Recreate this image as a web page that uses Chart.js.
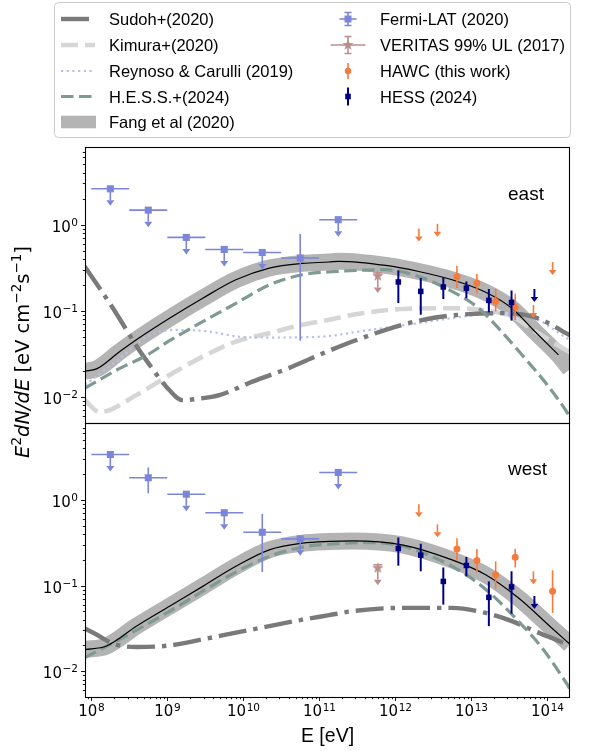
<!DOCTYPE html>
<html>
<head>
<meta charset="utf-8">
<script src="https://cdn.jsdelivr.net/npm/chart.js@4.4.1/dist/chart.umd.min.js"></script>
<style>
  html, body { margin: 0; padding: 0; background: #fff; }
  #wrap { position: relative; width: 597px; height: 751px; }
  #wrap canvas { position: absolute; left: 0; top: 0; }
</style>
</head>
<body>
<div id="wrap">
  <canvas id="east" width="597" height="751"></canvas>
  <canvas id="west" width="597" height="751"></canvas>
</div>
<script>
// axis ranges and tick labels
const X_MIN = 8.26e7, X_MAX = 2.0e14;
const Y_MIN = 5.0e-3, Y_MAX = 7.94;
const xTicks = [1e8, 1e9, 1e10, 1e11, 1e12, 1e13, 1e14];
const xTickExp = ['8', '9', '10', '11', '12', '13', '14'];
const yTicks = [1e-2, 1e-1, 1];
const yTickExp = ['\u22122', '\u22121', '0'];

// ---------- models, east ----------
const fangE_east = [8.2e7, 1.17e8, 2.37e8, 4.33e8, 1.07e9, 2.93e9, 8.0e9, 2.2e10, 6.0e10, 1.35e11, 1.82e11, 7.5e11, 2.04e12, 5.6e12, 1.53e13, 3.43e13, 6.9e13, 1.41e14, 2.0e14];
const fangF_east = [0.020, 0.0212, 0.0337, 0.049, 0.082, 0.14, 0.229, 0.313, 0.355, 0.368, 0.375, 0.336, 0.286, 0.229, 0.165, 0.107, 0.0575, 0.0308, 0.021];
const sudohE_east = [8.2e7, 1.93e8, 4.11e8, 5.86e8, 9.7e8, 1.6e9, 2.4e9, 4.85e9, 1.32e10, 3.63e10, 1.0e11, 2.73e11, 1.23e12, 3.39e12, 9.27e12, 2.51e13, 6.31e13, 1.15e14, 1.62e14, 2.0e14];
const sudohF_east = [0.327, 0.107, 0.0368, 0.0236, 0.0132, 0.0092, 0.0095, 0.0105, 0.0151, 0.021, 0.0308, 0.044, 0.0688, 0.0836, 0.0916, 0.094, 0.086, 0.0688, 0.0575, 0.052];
const kimuraE_east = [8.2e7, 1.29e8, 3.89e8, 1.07e9, 2.93e9, 8.0e9, 2.2e10, 6.0e10, 1.35e11, 2.73e11, 1.23e12, 5.6e12, 1.55e13, 3.43e13, 6.9e13, 1.05e14, 2.0e14];
const kimuraF_east = [0.0092, 0.0067, 0.0105, 0.018, 0.0294, 0.044, 0.055, 0.0688, 0.0786, 0.0898, 0.105, 0.107, 0.101, 0.086, 0.058, 0.046, 0.033];
const reynosoE_east = [8.3e7, 2.37e8, 5.37e8, 1.2e9, 3.3e9, 9.1e9, 2.2e10, 1.0e11, 4.57e11, 2.04e12, 9.3e12, 2.51e13, 6.9e13, 1.82e14, 2.0e14];
const reynosoF_east = [0.0138, 0.028, 0.05, 0.06, 0.058, 0.05, 0.049, 0.05, 0.06, 0.072, 0.0875, 0.094, 0.082, 0.048, 0.046];
const hessModE_east = [8.26e7, 2.37e8, 5.37e8, 1.07e9, 2.93e9, 8.0e9, 2.2e10, 6.0e10, 1.82e11, 7.5e11, 2.04e12, 5.6e12, 1.26e13, 2.51e13, 5.13e13, 9.33e13, 1.82e14, 2.0e14];
const hessModF_east = [0.0127, 0.0215, 0.0305, 0.045, 0.075, 0.122, 0.2, 0.262, 0.287, 0.30, 0.25, 0.168, 0.107, 0.0575, 0.028, 0.015, 0.0067, 0.0058];

// ---------- models, west ----------
const fangE_west = [8.2e7, 1.58e8, 3.92e8, 1.07e9, 2.93e9, 8.0e9, 2.2e10, 6.0e10, 1.35e11, 2.73e11, 1.23e12, 5.6e12, 1.55e13, 4.17e13, 1.15e14, 2.0e14];
const fangF_west = [0.0179, 0.0197, 0.0336, 0.0575, 0.098, 0.168, 0.262, 0.313, 0.328, 0.333, 0.30, 0.20, 0.134, 0.072, 0.032, 0.0206];
const sudohE_west = [8.2e7, 1.17e8, 1.93e8, 3.92e8, 1.07e9, 2.93e9, 8.0e9, 2.2e10, 6.0e10, 1.35e11, 2.73e11, 1.23e12, 5.6e12, 1.55e13, 3.43e13, 6.9e13, 1.82e14, 2.0e14];
const sudohF_west = [0.0316, 0.0269, 0.021, 0.0192, 0.020, 0.0236, 0.0282, 0.0336, 0.040, 0.0452, 0.0503, 0.055, 0.055, 0.048, 0.0385, 0.0294, 0.0206, 0.0198];
const hessModE_west = [8.2e7, 2.37e8, 1.07e9, 2.93e9, 8.0e9, 2.2e10, 6.0e10, 1.35e11, 4.57e11, 1.23e12, 3.39e12, 9.3e12, 1.86e13, 4.17e13, 8.5e13, 1.82e14, 2.0e14];
const hessModF_west = [0.0144, 0.0236, 0.05, 0.086, 0.144, 0.219, 0.282, 0.305, 0.318, 0.29, 0.21, 0.128, 0.0786, 0.0385, 0.0189, 0.0071, 0.0062];

// ---------- Fermi-LAT (2020) ----------
const fermiE = [1.78e8, 5.62e8, 1.78e9, 5.62e9, 1.78e10, 5.62e10, 1.78e11];
const fermiElo = [1e8, 3.16e8, 1e9, 3.16e9, 1e10, 3.16e10, 1e11];
const fermiEhi = [3.16e8, 1e9, 3.16e9, 1e10, 3.16e10, 1e11, 3.16e11];
const fermiF_east = [2.6, 1.47, 0.71, 0.515, 0.475, 0.41, 1.14];
const fermiLo_east = [null, null, null, null, null, 0.045, null];
const fermiHi_east = [null, null, null, null, null, 0.78, null];
const fermiUL_east = [true, true, true, true, true, false, true];
const fermiF_west = [3.4, 1.82, 1.17, 0.71, 0.42, 0.352, 2.1];
const fermiLo_west = [null, 1.2, null, null, 0.144, null, null];
const fermiHi_west = [null, 2.4, null, null, 0.687, null, null];
const fermiUL_west = [true, false, true, true, false, true, true];

// ---------- VERITAS 99% UL (2017) ----------
const veritasE = [5.9e11];
const veritasF_east = [0.253];
const veritasHi_east = [0.275];
const veritasF_west = [0.16];
const veritasHi_west = [0.175];

// ---------- HAWC (this work) ----------
const hawcE = [2.05e12, 3.6e12, 6.5e12, 1.19e13, 2.1e13, 3.8e13, 6.6e13, 1.18e14];
const hawcF_east = [0.90, 1.02, 0.249, 0.21, 0.128, 0.110, 0.117, 0.368];
const hawcLo_east = [null, null, 0.184, 0.158, 0.098, 0.078, null, null];
const hawcHi_east = [null, null, 0.333, 0.267, 0.18, 0.158, null, null];
const hawcUL_east = [true, true, false, false, false, false, true, true];
const hawcF_west = [0.89, 0.52, 0.267, 0.197, 0.134, 0.214, 0.147, 0.086];
const hawcLo_west = [null, null, 0.195, 0.143, 0.092, 0.163, null, 0.048];
const hawcHi_west = [null, null, 0.358, 0.267, 0.192, 0.27, null, 0.151];
const hawcUL_west = [true, true, false, false, false, false, true, false];

// ---------- HESS (2024) ----------
const hessE = [1.1e12, 2.17e12, 4.3e12, 8.65e12, 1.71e13, 3.4e13, 6.8e13];
const hessF_east = [0.216, 0.168, 0.189, 0.183, 0.132, 0.125, 0.179];
const hessLo_east = [0.123, 0.09, 0.137, 0.14, 0.096, 0.077, null];
const hessHi_east = [0.294, 0.24, 0.244, 0.219, 0.179, 0.172, null];
const hessUL_east = [false, false, false, false, false, false, true];
const hessF_west = [0.272, 0.227, 0.112, 0.172, 0.073, 0.0966, 0.0757];
const hessLo_west = [0.171, 0.147, 0.06, 0.128, 0.0336, 0.047, null];
const hessHi_west = [0.365, 0.308, 0.163, 0.216, 0.112, 0.147, null];
const hessUL_west = [false, false, false, false, false, false, true];

const legendLeft = ['Sudoh+(2020)', 'Kimura+(2020)', 'Reynoso & Carulli (2019)', 'H.E.S.S.+(2024)', 'Fang et al (2020)'];
const legendRight = ['Fermi-LAT (2020)', 'VERITAS 99% UL (2017)', 'HAWC (this work)', 'HESS (2024)'];

const COL = {
  fermi: '#7b86da', veritas: '#bc8f8f', hawc: '#f47b3d', hess: '#000080',
  sudoh: '#7a7a7a', kimura: '#d6d6d6', reynoso: '#b8c0e8', hessMod: '#7e9a93', fang: '#b4b4b4'
};
const SANS = '"Liberation Sans", Arial, sans-serif';
const MATH = '"DejaVu Sans", sans-serif';

const curve = (E, F) => E.map((e, i) => ({ x: e, y: F[i] }));
const points = (E, F, lo, hi, ul, elo, ehi) => E.map((e, i) => ({
  x: e, y: F[i],
  lo: lo ? lo[i] : null, hi: hi ? hi[i] : null,
  ul: ul ? ul[i] : false,
  xlo: elo ? elo[i] : null, xhi: ehi ? ehi[i] : null
}));

function starImage(color, r) {
  const cv = document.createElement('canvas');
  const s = Math.ceil(r * 2 + 2);
  cv.width = cv.height = s;
  const c = cv.getContext('2d');
  c.fillStyle = color;
  c.beginPath();
  for (let i = 0; i < 10; i++) {
    const a = -Math.PI / 2 + i * Math.PI / 5;
    const rr = i % 2 ? r * 0.42 : r;
    c.lineTo(s / 2 + rr * Math.cos(a), s / 2 + rr * Math.sin(a));
  }
  c.closePath();
  c.fill();
  return cv;
}
const star = starImage(COL.veritas, 6);

function lineDs(data, color, width, dash, order) {
  return {
    type: 'line', data, borderColor: color, borderWidth: width, borderDash: dash,
    borderCapStyle: 'butt', borderJoinStyle: 'round', pointRadius: 0, fill: false,
    cubicInterpolationMode: 'monotone', clip: 0, order
  };
}

const DASH = {
  sudoh: [28, 7, 4.4, 7], kimura: [17, 7], reynoso: [2.2, 3.5], hessMod: [12.5, 5.5]
};

function panel(p) {
  return [
    lineDs(curve(p.fangE, p.fangF), COL.fang, 17, [], 30),
    lineDs(curve(p.fangE, p.fangF).filter(d => d.x <= p.fitEnd), '#000', 1.2, [], 5),
    ...(p.kimuraE ? [lineDs(curve(p.kimuraE, p.kimuraF), COL.kimura, 4.6, DASH.kimura, 12)] : []),
    ...(p.reynosoE ? [lineDs(curve(p.reynosoE, p.reynosoF), COL.reynoso, 2.2, DASH.reynoso, 11)] : []),
    lineDs(curve(p.sudohE, p.sudohF), COL.sudoh, 4.4, DASH.sudoh, 10),
    lineDs(curve(p.hessModE, p.hessModF), COL.hessMod, 3.2, DASH.hessMod, 9),
    {
      type: 'scatter', data: points(fermiE, p.fermiF, p.fermiLo, p.fermiHi, p.fermiUL, fermiElo, fermiEhi),
      pointStyle: 'rect', pointRadius: 5, backgroundColor: COL.fermi, borderWidth: 0, clip: 0, order: 2,
      err: { color: COL.fermi, width: 1.6, arrow: 17, head: [4, 5.5] }
    },
    {
      type: 'scatter', data: points(veritasE, p.veritasF, null, p.veritasHi, [true], null, null),
      pointStyle: star, clip: 0, order: 2,
      err: { color: COL.veritas, width: 1.6, arrow: 17, head: [4, 5.5], cap: 4.5 }
    },
    {
      type: 'scatter', data: points(hawcE, p.hawcF, p.hawcLo, p.hawcHi, p.hawcUL, null, null),
      pointStyle: 'circle', pointRadius: ctx => (ctx.raw && ctx.raw.ul ? 0 : 3.5),
      backgroundColor: COL.hawc, borderWidth: 0, clip: 0, order: 1,
      err: { color: COL.hawc, width: 1.6, arrow: 13, head: [3.8, 5] }
    },
    {
      type: 'scatter', data: points(hessE, p.hessF, p.hessLo, p.hessHi, p.hessUL, null, null),
      pointStyle: 'rect', pointRadius: ctx => (ctx.raw && ctx.raw.ul ? 0 : 3.9),
      backgroundColor: COL.hess, borderWidth: 0, clip: 0, order: 0,
      err: { color: COL.hess, width: 2, arrow: 13, head: [3.8, 5] }
    }
  ];
}

// error bars / upper-limit arrows, drawn just below each marker set
const errorBars = {
  id: 'errorBars',
  beforeDatasetDraw(chart, args) {
    const ds = chart.data.datasets[args.index];
    if (!ds.err) return;
    const st = ds.err, c = chart.ctx, xs = chart.scales.x, ys = chart.scales.y, a = chart.chartArea;
    c.save();
    c.beginPath();
    c.rect(a.left, a.top, a.right - a.left, a.bottom - a.top);
    c.clip();
    c.strokeStyle = st.color; c.fillStyle = st.color; c.lineWidth = st.width;
    ds.data.forEach(p => {
      const px = xs.getPixelForValue(p.x), py = ys.getPixelForValue(p.y);
      if (p.xlo != null) {
        c.beginPath();
        c.moveTo(xs.getPixelForValue(p.xlo), py);
        c.lineTo(xs.getPixelForValue(p.xhi), py);
        c.stroke();
      }
      if (p.ul) {
        const top = p.hi != null ? ys.getPixelForValue(p.hi) : py;
        const tip = py + st.arrow, base = tip - st.head[1];
        c.beginPath(); c.moveTo(px, top); c.lineTo(px, base); c.stroke();
        c.beginPath();
        c.moveTo(px - st.head[0], base); c.lineTo(px + st.head[0], base); c.lineTo(px, tip);
        c.closePath(); c.fill();
        if (st.cap && p.hi != null) {
          c.beginPath(); c.moveTo(px - st.cap, top); c.lineTo(px + st.cap, top); c.stroke();
        }
      } else if (p.lo != null) {
        c.beginPath();
        c.moveTo(px, ys.getPixelForValue(p.hi));
        c.lineTo(px, ys.getPixelForValue(p.lo));
        c.stroke();
      }
    });
    c.restore();
  }
};

function drawPow(c, exp, x, y, align) {
  const base = '15px ' + MATH, sup = '10.5px ' + MATH;
  c.font = base; const wb = c.measureText('10').width;
  c.font = sup; const we = c.measureText(exp).width;
  const total = wb + 0.6 + we;
  const x0 = align === 'center' ? x - total / 2 : x - total;
  c.textAlign = 'left'; c.textBaseline = 'alphabetic';
  c.font = base; c.fillText('10', x0, y);
  c.font = sup; c.fillText(exp, x0 + wb + 0.6, y - 5.5);
}

function minorValues(min, max) {
  const out = [];
  for (let e = Math.floor(Math.log10(min)); e <= Math.ceil(Math.log10(max)); e++) {
    for (let m = 2; m <= 9; m++) {
      const v = m * Math.pow(10, e);
      if (v > min && v < max) out.push(v);
    }
  }
  return out;
}

function axesPlugin(withX, label, labelBaseline) {
  return {
    id: 'frame',
    afterDatasetsDraw(chart) {
      const c = chart.ctx, a = chart.chartArea, xs = chart.scales.x, ys = chart.scales.y;
      c.save();
      c.strokeStyle = '#000'; c.fillStyle = '#000';
      c.lineWidth = 1.1;
      c.strokeRect(a.left + 0.5, a.top + 0.5, a.right - a.left - 1, a.bottom - a.top);
      c.lineWidth = 0.9;
      // y ticks
      yTicks.forEach((v, i) => {
        const py = Math.round(ys.getPixelForValue(v)) + 0.5;
        c.beginPath(); c.moveTo(a.left, py); c.lineTo(a.left - 4, py); c.stroke();
        drawPow(c, yTickExp[i], a.left - 7, py + 6, 'right');
      });
      minorValues(Y_MIN, Y_MAX).forEach(v => {
        const py = Math.round(ys.getPixelForValue(v)) + 0.5;
        c.beginPath(); c.moveTo(a.left, py); c.lineTo(a.left - 2.2, py); c.stroke();
      });
      if (withX) {
        xTicks.forEach((v, i) => {
          const px = Math.round(xs.getPixelForValue(v)) + 0.5;
          c.beginPath(); c.moveTo(px, a.bottom); c.lineTo(px, a.bottom + 4); c.stroke();
          drawPow(c, xTickExp[i], px, a.bottom + 19, 'center');
        });
        minorValues(X_MIN, X_MAX).forEach(v => {
          const px = Math.round(xs.getPixelForValue(v)) + 0.5;
          c.beginPath(); c.moveTo(px, a.bottom); c.lineTo(px, a.bottom + 2.2); c.stroke();
        });
        c.font = '19.5px ' + SANS; c.textAlign = 'center';
        c.fillText('E [eV]', (a.left + a.right) / 2, 742);
        drawYTitle(c);
      }
      c.font = '19px ' + SANS; c.textAlign = 'left';
      c.fillText(label, 508, labelBaseline);
      c.restore();
    }
  };
}

function drawYTitle(c) {
  const big = '19.5px ' + MATH, ital = 'italic 19.5px ' + MATH, sup = '13.5px ' + MATH;
  const parts = [['E', ital, 0], ['2', sup, -8], ['dN/dE', ital, 0], [' [eV cm', big, 0],
    ['\u22122', sup, -8], ['s', big, 0], ['\u22121', sup, -8], [']', big, 0]];
  let total = 0;
  parts.forEach(p => { c.font = p[1]; total += c.measureText(p[0]).width; });
  c.save();
  c.translate(29, 352);
  c.rotate(-Math.PI / 2);
  c.textAlign = 'left';
  let x = -total / 2;
  parts.forEach(p => { c.font = p[1]; c.fillText(p[0], x, p[2]); x += c.measureText(p[0]).width; });
  c.restore();
}

const legendPlugin = {
  id: 'legendBox',
  afterDraw(chart) {
    const c = chart.ctx;
    const rows = [19, 45, 71, 96.5, 122];
    c.save();
    c.fillStyle = 'rgba(255,255,255,0.85)';
    c.strokeStyle = '#cccccc'; c.lineWidth = 1;
    c.beginPath();
    c.roundRect(54.5, 2.5, 516, 135, 4);
    c.fill(); c.stroke();

    const seg = (y, color, w, dash) => {
      c.strokeStyle = color; c.lineWidth = w; c.setLineDash(dash); c.lineCap = 'butt';
      c.beginPath(); c.moveTo(61, y); c.lineTo(95, y); c.stroke(); c.setLineDash([]);
    };
    seg(rows[0], COL.sudoh, 4.4, DASH.sudoh);
    seg(rows[1], COL.kimura, 4.6, DASH.kimura);
    seg(rows[2], COL.reynoso, 2.2, DASH.reynoso);
    seg(rows[3], COL.hessMod, 3.2, DASH.hessMod);
    c.fillStyle = COL.fang; c.fillRect(61, rows[4] - 6.3, 35, 12.6);

    const cx = 348;
    const vbar = (y, color, w, half, cap) => {
      c.strokeStyle = color; c.lineWidth = w;
      c.beginPath(); c.moveTo(cx, y - half); c.lineTo(cx, y + half); c.stroke();
      if (cap) {
        c.beginPath();
        c.moveTo(cx - cap, y - half); c.lineTo(cx + cap, y - half);
        c.moveTo(cx - cap, y + half); c.lineTo(cx + cap, y + half);
        c.stroke();
      }
    };
    // Fermi
    vbar(rows[0], COL.fermi, 1.6, 6.5, 3.5);
    c.beginPath(); c.moveTo(cx - 8.5, rows[0]); c.lineTo(cx + 8.5, rows[0]); c.stroke();
    c.fillStyle = COL.fermi; c.fillRect(cx - 3.5, rows[0] - 3.5, 7, 7);
    // VERITAS
    vbar(rows[1], COL.veritas, 1.6, 8.5, 3.5);
    c.beginPath(); c.moveTo(cx - 17.5, rows[1]); c.lineTo(cx + 17.5, rows[1]); c.stroke();
    c.drawImage(star, cx - star.width / 2, rows[1] - star.height / 2);
    // HAWC
    vbar(rows[2], COL.hawc, 1.6, 8, 0);
    c.fillStyle = COL.hawc; c.beginPath(); c.arc(cx, rows[2], 3.2, 0, Math.PI * 2); c.fill();
    // HESS
    vbar(rows[3], COL.hess, 2, 9, 0);
    c.fillStyle = COL.hess; c.fillRect(cx - 2.8, rows[3] - 2.8, 5.6, 5.6);

    c.fillStyle = '#000'; c.font = '16.5px ' + SANS; c.textAlign = 'left'; c.textBaseline = 'alphabetic';
    legendLeft.forEach((t, i) => c.fillText(t, 109, rows[i] + 6));
    legendRight.forEach((t, i) => c.fillText(t, 380, rows[i] + 6));
    c.restore();
  }
};

function makeChart(id, datasets, padding, extraPlugins) {
  return new Chart(document.getElementById(id), {
    type: 'scatter',
    data: { datasets },
    options: {
      responsive: false, animation: false, events: [],
      layout: { padding },
      plugins: { legend: { display: false }, tooltip: { enabled: false } },
      scales: {
        x: { type: 'logarithmic', min: X_MIN, max: X_MAX, display: false },
        y: { type: 'logarithmic', min: Y_MIN, max: Y_MAX, display: false }
      }
    },
    plugins: [errorBars, ...extraPlugins]
  });
}

makeChart('east', panel({
  fangE: fangE_east, fangF: fangF_east, fitEnd: 1.45e14,
  sudohE: sudohE_east, sudohF: sudohF_east,
  kimuraE: kimuraE_east, kimuraF: kimuraF_east,
  reynosoE: reynosoE_east, reynosoF: reynosoF_east,
  hessModE: hessModE_east, hessModF: hessModF_east,
  fermiF: fermiF_east, fermiLo: fermiLo_east, fermiHi: fermiHi_east, fermiUL: fermiUL_east,
  veritasF: veritasF_east, veritasHi: veritasHi_east,
  hawcF: hawcF_east, hawcLo: hawcLo_east, hawcHi: hawcHi_east, hawcUL: hawcUL_east,
  hessF: hessF_east, hessLo: hessLo_east, hessHi: hessHi_east, hessUL: hessUL_east
}), { left: 85, right: 27, top: 147, bottom: 328 }, [axesPlugin(false, 'east', 200), legendPlugin]);

makeChart('west', panel({
  fangE: fangE_west, fangF: fangF_west, fitEnd: 3e14,
  sudohE: sudohE_west, sudohF: sudohF_west,
  hessModE: hessModE_west, hessModF: hessModF_west,
  fermiF: fermiF_west, fermiLo: fermiLo_west, fermiHi: fermiHi_west, fermiUL: fermiUL_west,
  veritasF: veritasF_west, veritasHi: veritasHi_west,
  hawcF: hawcF_west, hawcLo: hawcLo_west, hawcHi: hawcHi_west, hawcUL: hawcUL_west,
  hessF: hessF_west, hessLo: hessLo_west, hessHi: hessHi_west, hessUL: hessUL_west
}), { left: 85, right: 27, top: 423, bottom: 54 }, [axesPlugin(true, 'west', 475)]);
</script>
</body>
</html>
